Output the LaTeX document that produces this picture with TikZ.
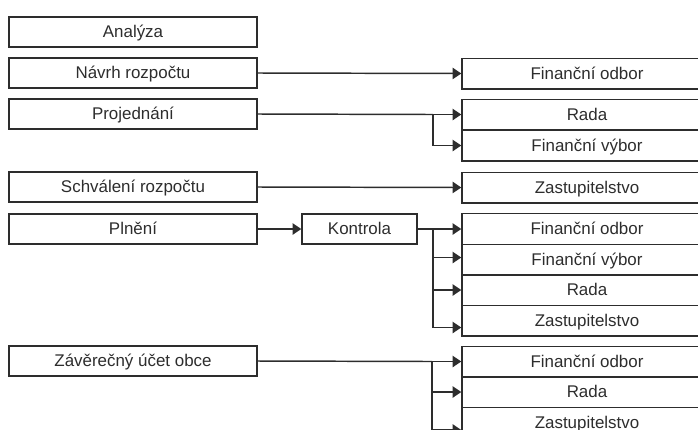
\documentclass[tikz,border=0pt]{standalone}
\usepackage{fontspec}
\setmainfont{Liberation Sans}
\usetikzlibrary{arrows.meta}
\definecolor{ink}{RGB}{45,45,45}

\tikzset{
  box/.style={draw=ink, text=ink, line width=1.1pt, inner sep=0pt, text height=10.5pt, text depth=2.2pt,
    font=\fontsize{12.7}{15}\selectfont},
  stagebox/.style={box, minimum width=186pt, minimum height=22.5pt},
  unitbox/.style={box, minimum width=187.5pt, minimum height=22.9pt},
  arr/.style={draw=ink, line width=1.1pt, -{Triangle[length=6.5pt,width=8.5pt]}},
  ln/.style={draw=ink, line width=1.1pt},
}

\begin{document}
\begin{tikzpicture}[x=0.75pt,y=0.75pt,yscale=-1,xscale=1]
\useasboundingbox (0,0) rectangle (698,429);
\clip (0,0) rectangle (698,429);

% stages on the left
\node [stagebox] (analyza) at (133,32) {Analýza};
\node [stagebox] (navrh) at (133,73) {Návrh rozpočtu};
\node [stagebox] (projednani) at (133,114) {Projednání};
\node [stagebox] (schvaleni) at (133,187) {Schválení rozpočtu};
\node [stagebox] (plneni) at (133,229) {Plnění};
\node [stagebox] (zaverecny) at (133,361) {Závěrečný účet obce};
\node [box, minimum width=86.25pt, minimum height=22.5pt] (kontrola) at (359.5,229) {Kontrola};

% bodies on the right
\node [unitbox] (odbor1) at (587,73.5) {Finanční odbor};
\node [unitbox] (rada1) at (587,114.5) {Rada};
\node [unitbox] (vybor1) at (587,145.5) {Finanční výbor};
\node [unitbox] (zast1) at (587,187.5) {Zastupitelstvo};
\node [unitbox] (odbor2) at (587,229) {Finanční odbor};
\node [unitbox] (vybor2) at (587,259.5) {Finanční výbor};
\node [unitbox] (rada2) at (587,290) {Rada};
\node [unitbox] (zast2) at (587,320.5) {Zastupitelstvo};
\node [unitbox] (odbor3) at (587,361.5) {Finanční odbor};
\node [unitbox] (rada3) at (587,392) {Rada};
\node [unitbox] (zast3) at (587,422.5) {Zastupitelstvo};

% branch points
\coordinate (b1) at (433,114.5);
\coordinate (b2) at (433,229);
\coordinate (b3) at (432,361.5);

% connectors
\draw [arr] (navrh.east) -- (odbor1.west);
\draw [ln] (projednani.east) -- (b1);
\draw [arr] (b1) -- (rada1.west);
\draw [arr] (b1) |- (vybor1.west);
\draw [arr] (schvaleni.east) -- (zast1.west);
\draw [arr] (plneni.east) -- (kontrola.west);
\draw [ln] (kontrola.east) -- (b2);
\draw [arr] (b2) -- (odbor2.west);
\draw [arr] (b2) |- ([yshift=-1.5pt]vybor2.west);
\draw [arr] (b2) |- (rada2.west);
\draw [arr] (b2) |- ([yshift=5.25pt]zast2.west);
\draw [ln] (zaverecny.east) -- (b3);
\draw [arr] (b3) -- (odbor3.west);
\draw [arr] (b3) |- (rada3.west);
\draw [arr] (b3) |- ([yshift=5.6pt]zast3.west);

\end{tikzpicture}
\end{document}
